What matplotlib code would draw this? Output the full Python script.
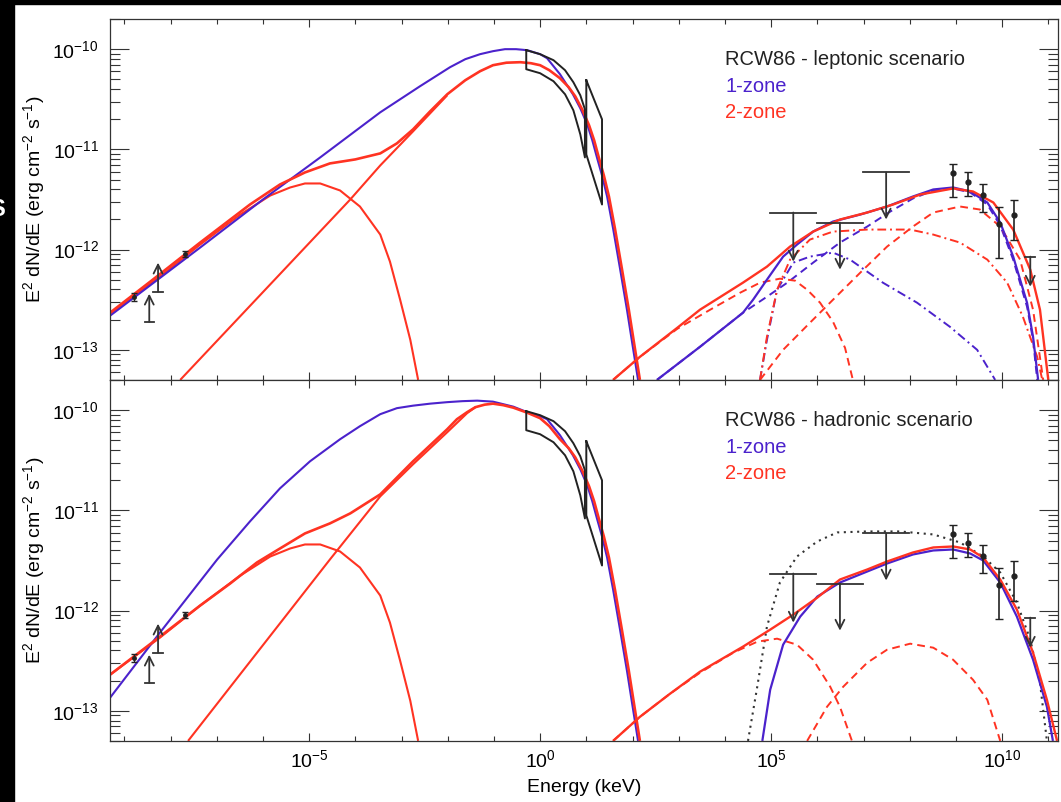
import numpy as np
import matplotlib
matplotlib.use('Agg')
import matplotlib.pyplot as plt
from matplotlib.patches import Rectangle, FancyArrowPatch
from matplotlib.ticker import FixedLocator, LogLocator, NullFormatter, LogFormatterSciNotation

plt.rcParams['font.family'] = ['Liberation Sans', 'DejaVu Sans']
plt.rcParams['mathtext.fontset'] = 'custom'
plt.rcParams['mathtext.rm'] = 'Liberation Sans'
plt.rcParams['mathtext.default'] = 'regular'

BLUE = '#4b22cc'
RED = '#ff3322'
INK = '#222222'
GREY = '#333333'

# ---- data: log10(E / keV), log10(E^2 dN/dE / erg cm^-2 s^-1) ----

# radio points and lower limits (same in both panels)
radio_E = [-8.79, -7.68]
radio_F = [-12.47, -12.04]
radio_err = [0.04, 0.03]
ll_E = [-8.46, -8.27]
ll_F = [-12.72, -12.42]

# X-ray bowties
bow1_E = [-0.30, 0.00, 0.29, 0.54, 0.72, 0.87, 0.97]
bow1_up = [-10.01, -10.05, -10.11, -10.21, -10.33, -10.46, -10.60]
bow1_lo = [-10.20, -10.24, -10.32, -10.45, -10.61, -10.85, -11.08]
bow2_E = [1.00, 1.34, 1.34, 1.00, 1.00]
bow2_F = [-10.31, -10.70, -11.55, -11.05, -10.31]

# Fermi upper limits
ul_E = [5.48, 6.49, 7.49, 10.61]
ul_half = [0.50, 0.50, 0.50, 0.11]
ul_F = [-11.63, -11.73, -11.23, -12.07]

# HESS points
hess_E = [8.94, 9.26, 9.59, 9.94, 10.26]
hess_F = [-11.24, -11.33, -11.46, -11.74, -11.65]
hess_lo = [-11.48, -11.47, -11.62, -12.08, -11.90]
hess_hi = [-11.15, -11.23, -11.35, -11.57, -11.50]

# shared 2-zone low-energy synchrotron component
redA_E = [-9.31, -8.23, -7.36, -6.49, -5.84, -5.41, -5.09, -4.76, -4.33, -3.90, -3.46, -3.25, -3.03, -2.81, -2.64]
redA_F = [-12.64, -12.27, -11.95, -11.65, -11.46, -11.38, -11.34, -11.34, -11.41, -11.57, -11.85, -12.12, -12.50,
          -12.90, -13.30]

# leptonic scenario
lep_blue_E = [-9.31, -7.36, -6.00, -4.76, -3.46, -2.60, -1.95, -1.62, -1.30, -1.02, -0.76, -0.52, -0.28, 0.00,
              0.15, 0.43, 0.71, 0.87, 1.02, 1.13, 1.23, 1.34, 1.45, 1.58, 1.73, 1.88, 2.01, 2.12]
lep_blue_F = [-12.66, -11.98, -11.50, -11.08, -10.63, -10.37, -10.18, -10.10, -10.05, -10.02, -10.00, -10.00, -10.01,
              -10.05, -10.09, -10.25, -10.45, -10.59, -10.75, -10.91, -11.08, -11.26, -11.47, -11.79, -12.19, -12.60,
              -12.98, -13.30]
lep_red_E = [-9.31, -8.44, -7.36, -6.28, -5.63, -5.09, -4.55, -4.00, -3.46, -3.10, -2.75, -2.38, -2.01, -1.62,
             -1.30, -1.02, -0.73, -0.43, -0.20, 0.00, 0.20, 0.43, 0.62, 0.76, 0.91, 1.06, 1.17, 1.27, 1.38, 1.49,
             1.62, 1.77, 1.92, 2.05, 2.16]
lep_red_F = [-12.63, -12.32, -11.93, -11.55, -11.35, -11.23, -11.14, -11.10, -11.04, -10.94, -10.80, -10.62, -10.45,
             -10.31, -10.22, -10.16, -10.135, -10.13, -10.14, -10.16, -10.21, -10.29, -10.38, -10.47, -10.60, -10.76,
             -10.91, -11.08, -11.26, -11.47, -11.79, -12.19, -12.60, -12.98, -13.30]
lep_redB_E = [-7.79, -4.11, -3.46, -2.75, -2.01]
lep_redB_F = [-13.30, -11.50, -11.16, -10.82, -10.46]

lep_blue_ic_E = [2.53, 3.46, 4.39, 4.61, 4.91, 5.26, 5.56, 5.91, 6.34, 6.93, 7.51, 8.07, 8.51, 8.94, 9.31, 9.68, 9.96,
                 10.24, 10.54, 10.67, 10.78]
lep_blue_ic_F = [-13.30, -12.97, -12.63, -12.50, -12.30, -12.07, -11.95, -11.82, -11.72, -11.65, -11.57, -11.47, -11.40,
                 -11.38, -11.42, -11.53, -11.73, -12.07, -12.53, -12.87, -13.30]
lep_blue_dash_E = [2.53, 3.46, 4.39, 4.91, 5.35, 5.91, 6.49, 7.08, 7.58, 8.07, 8.51, 8.94, 9.31, 9.68, 9.96, 10.24,
                   10.54, 10.67, 10.76]
lep_blue_dash_F = [-13.30, -12.97, -12.63, -12.47, -12.33, -12.13, -11.93, -11.77, -11.62, -11.49, -11.41, -11.39,
                   -11.43, -11.55, -11.76, -12.10, -12.57, -12.90, -13.30]
lep_blue_dd_E = [4.76, 4.91, 5.13, 5.48, 5.84, 6.34, 6.71, 7.42, 8.16, 8.87, 9.46, 9.85]
lep_blue_dd_F = [-13.30, -12.90, -12.40, -12.13, -12.07, -12.03, -12.10, -12.33, -12.53, -12.77, -13.00, -13.30]

lep_red_ic_E = [1.58, 2.16, 2.97, 3.46, 4.39, 4.91, 5.41, 5.91, 6.49, 7.08, 7.64, 8.23, 8.94, 9.37, 9.81, 10.24,
                10.61, 10.82, 11.00]
lep_red_ic_F = [-13.30, -13.07, -12.78, -12.60, -12.33, -12.17, -11.97, -11.82, -11.70, -11.63, -11.55, -11.45, -11.39,
                -11.42, -11.53, -11.80, -12.20, -12.60, -13.30]
lep_red_d1_E = [1.58, 2.16, 2.97, 3.68, 4.33, 4.76, 5.19, 5.52, 5.78, 6.06, 6.34, 6.60, 6.77]
lep_red_d1_F = [-13.30, -13.07, -12.79, -12.60, -12.43, -12.33, -12.29, -12.31, -12.40, -12.53, -12.72, -12.98, -13.30]
lep_red_d2_E = [4.76, 5.26, 5.84, 6.34, 6.93, 7.51, 8.07, 8.51, 9.09, 9.52, 9.96, 10.39, 10.67, 10.89]
lep_red_d2_F = [-13.30, -13.00, -12.73, -12.50, -12.23, -11.97, -11.77, -11.63, -11.57, -11.60, -11.77, -12.10, -12.60,
                -13.30]
lep_red_dd_E = [4.76, 4.91, 5.13, 5.41, 5.84, 6.34, 7.08, 8.01, 8.51, 9.09, 9.68, 10.11, 10.45, 10.76, 10.87]
lep_red_dd_F = [-13.30, -12.87, -12.40, -12.10, -11.90, -11.82, -11.80, -11.80, -11.85, -11.93, -12.10, -12.33, -12.67,
                -13.07, -13.30]

# hadronic scenario
had_blue_E = [-9.31, -8.23, -6.99, -6.28, -5.63, -4.98, -4.33, -3.90, -3.46, -3.10, -2.75, -2.38, -2.01, -1.68,
              -1.36, -1.02, -0.80, -0.58, -0.28, 0.00, 0.15, 0.43, 0.71, 0.87, 1.02, 1.13, 1.23, 1.34, 1.45, 1.58,
              1.73, 1.88, 2.01, 2.12]
had_blue_F = [-12.87, -12.22, -11.49, -11.11, -10.78, -10.51, -10.29, -10.16, -10.04, -9.98, -9.955, -9.935, -9.92,
              -9.91, -9.905, -9.915, -9.94, -9.965, -10.02, -10.06, -10.09, -10.25, -10.45, -10.59, -10.75, -10.91,
              -11.08, -11.26, -11.47, -11.79, -12.19, -12.60, -12.98, -13.30]
had_red_E = [-9.31, -8.23, -7.36, -6.71, -6.13, -5.63, -5.09, -4.55, -4.11, -3.46, -2.75, -2.01, -1.80, -1.58,
             -1.40, -1.20, -1.02, -0.80, -0.58, -0.28, 0.00, 0.20, 0.43, 0.62, 0.76, 0.91, 1.06, 1.17, 1.27, 1.38,
             1.49, 1.62, 1.77, 1.92, 2.05, 2.16]
had_red_F = [-12.64, -12.26, -11.95, -11.73, -11.52, -11.38, -11.23, -11.13, -11.03, -10.84, -10.51, -10.19, -10.09,
             -10.02, -9.97, -9.945, -9.935, -9.95, -9.975, -10.025, -10.08, -10.16, -10.29, -10.38, -10.47, -10.60,
             -10.76, -10.91, -11.08, -11.26, -11.47, -11.79, -12.19, -12.60, -12.98, -13.30]
had_redB_E = [-7.62, -4.55, -3.46, -2.75, -2.01, -1.58, -1.40]
had_redB_F = [-13.30, -11.49, -10.86, -10.54, -10.22, -10.03, -9.97]

had_blue_pp_E = [4.81, 4.98, 5.26, 5.63, 6.00, 6.49, 7.08, 7.51, 8.07, 8.51, 8.94, 9.31, 9.59, 9.96, 10.32, 10.67,
                 10.97, 11.10]
had_blue_pp_F = [-13.30, -12.79, -12.34, -12.06, -11.86, -11.72, -11.61, -11.53, -11.44, -11.40, -11.39, -11.43, -11.50,
                 -11.72, -12.06, -12.49, -12.96, -13.30]
had_red_pp_E = [1.58, 2.16, 2.81, 3.46, 4.39, 4.98, 5.48, 6.00, 6.49, 7.08, 7.51, 8.07, 8.51, 8.94, 9.31, 9.59, 9.96,
                10.32, 10.67, 10.97, 11.19]
had_red_pp_F = [-13.30, -13.06, -12.83, -12.61, -12.36, -12.19, -12.04, -11.87, -11.69, -11.59, -11.51, -11.42, -11.37,
                -11.36, -11.39, -11.47, -11.69, -11.99, -12.42, -12.89, -13.30]
had_red_d1_E = [1.58, 2.16, 2.81, 3.46, 4.18, 4.70, 5.13, 5.56, 5.91, 6.28, 6.49, 6.75]
had_red_d1_F = [-13.30, -13.06, -12.83, -12.62, -12.42, -12.31, -12.28, -12.34, -12.49, -12.76, -12.96, -13.30]
had_red_d2_E = [5.78, 6.21, 6.56, 7.08, 7.51, 8.01, 8.51, 8.94, 9.37, 9.68, 9.96]
had_red_d2_F = [-13.30, -12.96, -12.76, -12.52, -12.39, -12.33, -12.37, -12.49, -12.69, -12.89, -13.30]
had_dot_E = [4.50, 4.70, 4.91, 5.19, 5.56, 6.00, 6.43, 7.08, 7.79, 8.51, 9.09, 9.59, 9.96, 10.32, 10.61, 10.82, 10.97]
had_dot_F = [-13.30, -12.76, -12.16, -11.72, -11.46, -11.31, -11.22, -11.21, -11.21, -11.24, -11.32, -11.46, -11.62,
             -11.92, -12.29, -12.72, -13.30]

titles = ['RCW86 - leptonic scenario', 'RCW86 - hadronic scenario']
legend_labels = ['1-zone', '2-zone']


def p(a):
    return 10.0 ** np.asarray(a)


def line(ax, e, f, color, lw=1.4, ls='-'):
    ax.plot(p(e), p(f), color=color, lw=lw, ls=ls, solid_capstyle='butt', solid_joinstyle='round')


def arrow(ax, e, f0, f1):
    ax.add_patch(FancyArrowPatch((p(e), p(f0)), (p(e), p(f1)), arrowstyle='->', mutation_scale=16,
                                 lw=1.3, color=GREY, shrinkA=0, shrinkB=0, zorder=4))


DASH = (0, (4, 2.6))
DASHDOT = (0, (4.5, 2, 1, 2))
DOT = (0, (1, 2.2))

fig = plt.figure(figsize=(10.61, 8.02), dpi=100)
fig.patch.set_facecolor('white')
W, H = 1061.0, 802.0
ax1 = fig.add_axes([110 / W, 1 - 380 / H, 948 / W, 361 / H])
ax2 = fig.add_axes([110 / W, 1 - 741 / H, 948 / W, 361 / H], sharex=ax1)

# black border strips of the cropped original
fig.add_artist(Rectangle((0, 0), 14 / W, 1, transform=fig.transFigure, color='black', zorder=5))
fig.add_artist(Rectangle((0, 1 - 4 / H), 1, 4 / H, transform=fig.transFigure, color='black', zorder=5))
fig.text(-3 / W, 1 - 210 / H, 'S', color='white', fontsize=17, fontweight='bold', ha='center', va='center', zorder=6)

for ax in (ax1, ax2):
    # shared observational data
    rf = np.array(radio_F)
    ax.errorbar(p(radio_E), p(rf), yerr=[p(rf) - p(rf - radio_err), p(rf + radio_err) - p(rf)],
                fmt='o', ms=2.5, color=INK, capsize=2.5, lw=1.0, zorder=4)
    for e, f, ln in zip(ll_E, ll_F, [0.28, 0.29]):
        arrow(ax, e, f, f + ln)
        ax.plot([p(e - 0.1), p(e + 0.1)], [p(f), p(f)], color=GREY, lw=1.3)
    ax.plot(p(bow1_E + bow1_E[::-1] + bow1_E[:1]), p(bow1_up + bow1_lo[::-1] + bow1_up[:1]),
            color=INK, lw=1.4, zorder=4)
    ax.plot(p(bow2_E), p(bow2_F), color=INK, lw=1.4, zorder=4)
    for e, h, f, ln in zip(ul_E, ul_half, ul_F, [0.49, 0.47, 0.47, 0.30]):
        ax.plot([p(e - h), p(e + h)], [p(f), p(f)], color=GREY, lw=1.3, zorder=4)
        arrow(ax, e, f, f - ln)
    ax.errorbar(p(hess_E), p(hess_F), yerr=[p(hess_F) - p(hess_lo), p(hess_hi) - p(hess_F)],
                fmt='o', ms=3.5, color=INK, capsize=3, lw=1.2, zorder=4)
    line(ax, redA_E, redA_F, RED, 1.5)

# leptonic panel
line(ax1, lep_redB_E, lep_redB_F, RED, 1.5)
line(ax1, lep_blue_E, lep_blue_F, BLUE, 1.5)
line(ax1, lep_red_E, lep_red_F, RED, 1.9)
line(ax1, lep_blue_dash_E, lep_blue_dash_F, BLUE, 1.4, DASH)
line(ax1, lep_blue_dd_E, lep_blue_dd_F, BLUE, 1.4, DASHDOT)
line(ax1, lep_red_d1_E, lep_red_d1_F, RED, 1.4, DASH)
line(ax1, lep_red_d2_E, lep_red_d2_F, RED, 1.4, DASH)
line(ax1, lep_red_dd_E, lep_red_dd_F, RED, 1.4, DASHDOT)
line(ax1, lep_blue_ic_E, lep_blue_ic_F, BLUE, 1.6)
line(ax1, lep_red_ic_E, lep_red_ic_F, RED, 1.7)

# hadronic panel
line(ax2, had_redB_E, had_redB_F, RED, 1.5)
line(ax2, had_blue_E, had_blue_F, BLUE, 1.5)
line(ax2, had_red_E, had_red_F, RED, 1.9)
line(ax2, had_dot_E, had_dot_F, GREY, 1.5, DOT)
line(ax2, had_red_d1_E, had_red_d1_F, RED, 1.4, DASH)
line(ax2, had_red_d2_E, had_red_d2_F, RED, 1.4, DASH)
line(ax2, had_blue_pp_E, had_blue_pp_F, BLUE, 1.6)
line(ax2, had_red_pp_E, had_red_pp_F, RED, 1.7)

for ax, title in zip((ax1, ax2), titles):
    ax.set_xscale('log')
    ax.set_yscale('log')
    ax.set_xlim(10 ** -9.31, 10 ** 11.21)
    ax.set_ylim(5e-14, 2e-10)
    ax.xaxis.set_major_locator(FixedLocator([1e-5, 1e0, 1e5, 1e10]))
    ax.xaxis.set_minor_locator(FixedLocator(10.0 ** np.arange(-9, 12)))
    ax.xaxis.set_major_formatter(LogFormatterSciNotation())
    ax.xaxis.set_minor_formatter(NullFormatter())
    ax.yaxis.set_major_locator(LogLocator(base=10, numticks=20))
    ax.yaxis.set_minor_locator(LogLocator(base=10, subs=np.arange(2, 10), numticks=100))
    ax.yaxis.set_minor_formatter(NullFormatter())
    ax.tick_params(axis='both', which='both', direction='in', top=True, right=True,
                   color=GREY, width=0.8, labelsize=14)
    ax.tick_params(axis='y', which='major', length=14, pad=8)
    ax.tick_params(axis='y', which='minor', length=7)
    ax.tick_params(axis='x', which='major', length=5.5, pad=6)
    ax.tick_params(axis='x', which='minor', length=3.5)
    for s in ax.spines.values():
        s.set_color(GREY)
        s.set_linewidth(0.9)
    ax.set_ylabel('E$^2$ dN/dE (erg cm$^{-2}$ s$^{-1}$)', fontsize=14)
    ax.yaxis.set_label_coords(-0.0665, 0.5)
    ax.text(0.649, 0.889, title, transform=ax.transAxes, fontsize=14.5, color=INK, va='center')
    ax.text(0.649, 0.814, legend_labels[0], transform=ax.transAxes, fontsize=14.5, color=BLUE, va='center')
    ax.text(0.649, 0.742, legend_labels[1], transform=ax.transAxes, fontsize=14.5, color=RED, va='center')

ax1.tick_params(axis='x', which='both', labelbottom=False)
fig.text(584 / W, 1 - 788 / H, 'Energy (keV)', fontsize=14, ha='center', va='center')

fig.savefig('out.png', dpi=100)
